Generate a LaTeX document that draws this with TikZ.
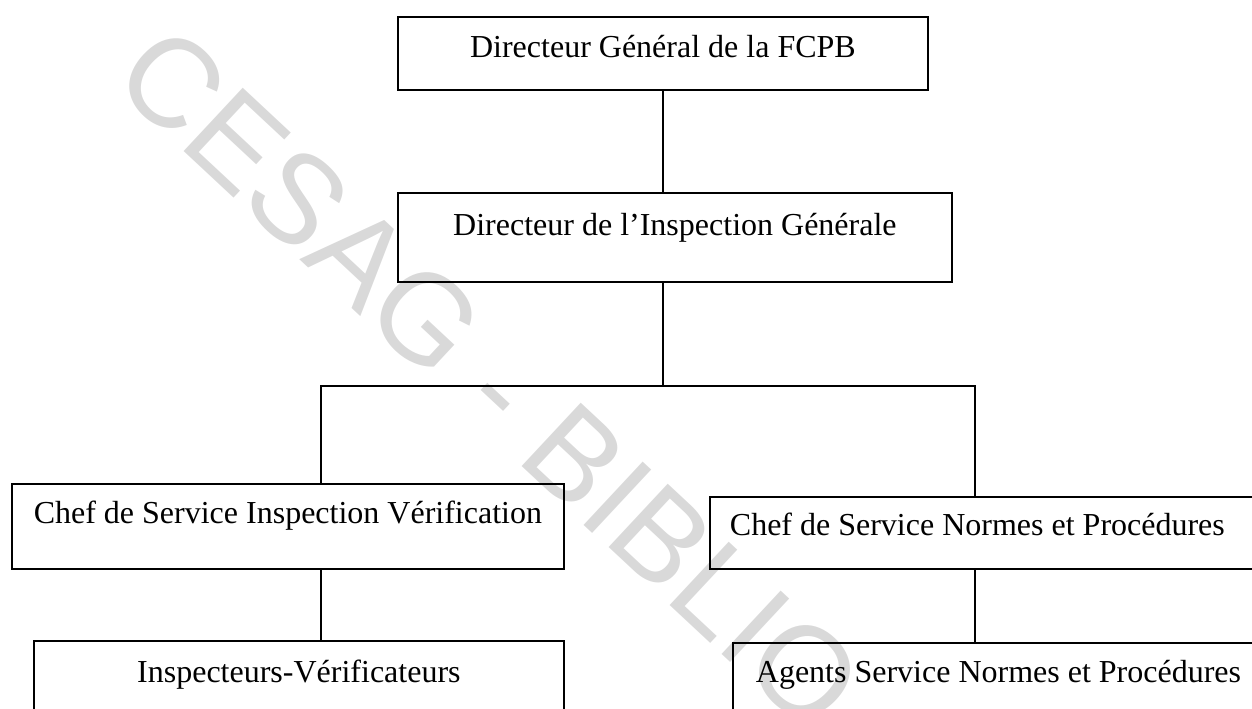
\documentclass[tikz,border=0pt]{standalone}
\usepackage{fontspec}
\setmainfont{Liberation Serif}
\newfontfamily\wmfont{Liberation Sans}
\usetikzlibrary{calc}

\tikzset{
  unitbox/.style={draw=black, line width=0.9pt, anchor=north west, inner ysep=0pt,
    font=\fontsize{16}{19}\selectfont},
  stamp/.style={text=black!15, font=\wmfont\fontsize{63}{63}\selectfont, rotate=-43, inner sep=0pt},
  link/.style={line width=0.9pt}
}

\begin{document}
\begin{tikzpicture}[x=0.5pt, y=-0.5pt]

    % page frame, 1252 x 708
    \useasboundingbox (0,0) rectangle (1252,708);

    % watermark behind everything
    \node[stamp] (wm) at (490,378) {CESAG - BIBLIO};

    % top of the chart
    \node[unitbox, minimum width=265pt, inner xsep=0pt,
          text height=20.5pt, text depth=16pt] (dg) at (397,16) {Directeur Général de la FCPB};
    \node[unitbox, minimum width=277pt, inner xsep=0pt,
          text height=21.5pt, text depth=23pt] (dig) at (397,192) {Directeur de l’Inspection Générale};

    % the two services
    \node[unitbox, minimum width=276pt, inner xsep=0pt,
          text height=20pt, text depth=22.5pt] (civ) at (11,483) {Chef de Service Inspection Vérification};
    \node[unitbox, text width=276pt, align=flush left, inner xsep=10pt,
          text height=19.5pt, text depth=16.5pt] (cnp) at (709,496) {Chef de Service Normes et Procédures};

    % agents (cut at the bottom of the page)
    \node[unitbox, minimum width=265pt, inner xsep=0pt,
          text height=21pt, text depth=30pt] (iv) at (33,640) {Inspecteurs-Vérificateurs};
    \node[unitbox, text width=261pt, align=flush left, inner xsep=11.5pt,
          text height=20pt, text depth=30pt] (asnp) at (732,642) {Agents Service Normes et Procédures};

    % branch points
    \coordinate (jl) at (321,386);
    \coordinate (jr) at (975,386);

    % connectors
    \draw[link] (dg.south) -- (dg.south |- dig.north);
    \draw[link] (dg.south |- dig.south) -- (dg.south |- jl);
    \draw[link] (jl |- civ.north) -- (jl) -- (jr) -- (jr |- cnp.north);
    \draw[link] (jl |- civ.south) -- (jl |- iv.north);
    \draw[link] (jr |- cnp.south) -- (jr |- asnp.north);

\end{tikzpicture}
\end{document}
